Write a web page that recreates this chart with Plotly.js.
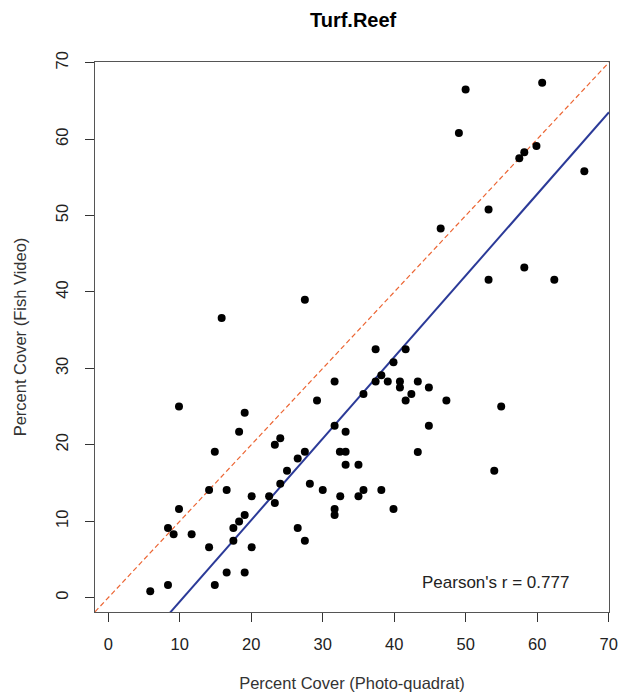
<!DOCTYPE html>
<html>
<head>
<meta charset="utf-8">
<script src="https://cdn.plot.ly/plotly-3.0.1.min.js"></script>
<style>html,body{margin:0;padding:0;background:#fff;}#plot{width:630px;height:693px;}</style>
</head>
<body>
<div id="plot"></div>
<script>
// Percent cover from photo-quadrats (x) and fish video (y)
const photoQuadrat = [15.86, 27.5, 49.99, 60.7, 49.05, 59.9, 58.2, 57.5, 66.6, 53.2, 46.5, 58.2, 53.2, 62.4,
  9.89, 31.66, 29.2, 19.08, 18.3, 31.66, 33.2, 14.9, 23.3, 24.06, 27.5, 26.5, 32.4, 33.2, 33.2, 35.0,
  25.0, 24.06, 28.2, 30.0, 14.1, 16.56, 20.06, 22.5, 23.3, 32.45, 35.0, 31.66, 31.66, 9.89, 19.08, 18.3,
  17.5, 8.35, 9.14, 11.66, 26.5, 17.5, 27.5, 14.1, 20.06, 16.56, 19.08, 14.9, 8.35, 5.87,
  37.4, 41.6, 39.9, 38.2, 37.4, 39.1, 40.8, 43.3, 40.8, 44.85, 35.7, 42.4, 41.6, 47.3, 54.97, 44.85,
  43.3, 54.0, 35.7, 38.2, 39.9];
const fishVideo = [36.6, 39.0, 66.5, 67.4, 60.8, 59.1, 58.3, 57.5, 55.8, 50.8, 48.3, 43.2, 41.6, 41.6,
  25.0, 28.3, 25.8, 24.2, 21.7, 22.5, 21.7, 19.1, 20.0, 20.85, 19.1, 18.2, 19.1, 19.1, 17.4, 17.4,
  16.6, 14.9, 14.9, 14.1, 14.1, 14.1, 13.26, 13.26, 12.4, 13.26, 13.26, 11.6, 10.8, 11.6, 10.8, 9.95,
  9.1, 9.1, 8.3, 8.3, 9.1, 7.46, 7.46, 6.6, 6.6, 3.3, 3.3, 1.65, 1.65, 0.82,
  32.5, 32.5, 30.8, 29.1, 28.3, 28.3, 28.3, 28.3, 27.5, 27.5, 26.65, 26.65, 25.8, 25.8, 25.0, 22.5,
  19.06, 16.6, 14.1, 14.1, 11.6];
// Fitted regression line (intercept, slope) and 1:1 reference line extent
const fitCoef = [-11.18, 1.0665];
const lineX = [-1.86, 70.05];
const tickVals = [0, 10, 20, 30, 40, 50, 60, 70];
const pearsonLabel = "Pearson's r = 0.777";

const font = "Liberation Sans, Arial, sans-serif";
const fitY = lineX.map(x => fitCoef[0] + fitCoef[1] * x);

const traces = [
  {x: lineX, y: lineX, mode: 'lines', type: 'scatter',
   line: {color: '#EC6533', width: 1.2, dash: '5px,3px'}, hoverinfo: 'skip'},
  {x: lineX, y: fitY, mode: 'lines', type: 'scatter',
   line: {color: '#2B3A98', width: 2}, hoverinfo: 'skip'},
  {x: photoQuadrat, y: fishVideo, mode: 'markers', type: 'scatter',
   marker: {color: '#000', size: 8}}
];

const axisCommon = {
  tickvals: tickVals, ticktext: tickVals.map(String),
  ticks: 'outside', ticklen: 9, tickwidth: 1, tickcolor: '#333',
  showline: true, linecolor: '#555', linewidth: 1, mirror: true,
  showgrid: false, zeroline: false,
  tickfont: {family: font, size: 16.5, color: '#222'}
};

const layout = {
  width: 630, height: 693,
  margin: {l: 95, r: 21, t: 62, b: 81},
  paper_bgcolor: '#fff', plot_bgcolor: '#fff',
  showlegend: false,
  title: {text: '<b>Turf.Reef</b>', font: {family: font, size: 20, color: '#000'},
          x: 0.5605, xanchor: 'center', y: 0.971, yanchor: 'middle'},
  xaxis: Object.assign({}, axisCommon, {
    range: [-1.86, 70.05],
    ticklabelstandoff: 8,
    title: {text: 'Percent Cover (Photo-quadrat)', font: {family: font, size: 16.5, color: '#333'}, standoff: 25}
  }),
  yaxis: Object.assign({}, axisCommon, {
    range: [-1.88, 70.1],
    tickangle: -90,
    ticklabelstandoff: 10,
    title: {text: 'Percent Cover (Fish Video)', font: {family: font, size: 16.5, color: '#333'}, standoff: 22}
  }),
  annotations: [{
    x: 54.2, y: 2.04, xref: 'x', yref: 'y', text: pearsonLabel, showarrow: false,
    xanchor: 'center', yanchor: 'middle', font: {family: font, size: 17, color: '#222'}
  }]
};

Plotly.newPlot('plot', traces, layout, {staticPlot: true, displayModeBar: false});
</script>
</body>
</html>
